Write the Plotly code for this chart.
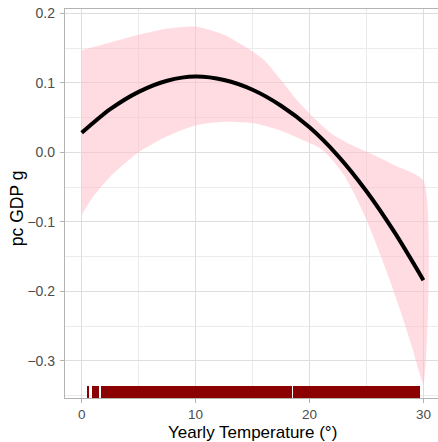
import plotly.graph_objects as go

# Fitted curve (Yearly temperature vs per-capita GDP growth)
fit_temp = [0, 2.5, 5, 7.5, 10, 12.5, 15, 17.5, 20, 22.5, 25, 27.5, 30]
fit_gdp = [0.028, 0.062, 0.087, 0.103, 0.109, 0.104, 0.090, 0.067, 0.036,
           -0.005, -0.056, -0.116, -0.184]

# Confidence band, upper bound
upper_temp = [0, 2.5, 5, 7.5, 10, 12.5, 15, 16, 17.5, 19, 20, 21, 22, 23.5, 25, 27.5, 30]
upper_gdp = [0.147, 0.158, 0.169, 0.178, 0.181, 0.169, 0.145, 0.133, 0.104, 0.073,
             0.056, 0.040, 0.026, 0.012, 0.001, -0.019, -0.041]

# Confidence band, lower bound
lower_temp = [0, 1, 2.5, 5, 7.5, 10, 12.5, 15, 17.5, 19.2, 21, 22, 23, 24, 25, 26, 27, 28, 29, 30]
lower_gdp = [-0.090, -0.064, -0.035, 0.000, 0.023, 0.039, 0.044, 0.042, 0.031, 0.019,
             0.005, -0.011, -0.032, -0.062, -0.097, -0.138, -0.182, -0.229, -0.280, -0.333]

# Rug of observed temperatures (covered spans)
rug_start = [0.49, 0.90, 1.72, 16.65, 18.51]
rug_end = [0.64, 1.52, 16.62, 18.48, 29.70]

x_ticks = [0, 10, 20, 30]
y_ticks = [-0.3, -0.2, -0.1, 0.0, 0.1, 0.2]

x_title = "Yearly Temperature (°)"
y_title = "pc GDP g"

x_range = [-1.467, 31.28]
y_range = [-0.3535, 0.2062]

fig = go.Figure()

# ribbon
band_x = upper_temp + lower_temp[::-1]
band_y = upper_gdp + lower_gdp[::-1]
fig.add_trace(go.Scatter(
    x=band_x, y=band_y, mode="lines", fill="toself",
    fillcolor="rgba(255,192,203,0.55)", line=dict(width=0, shape="spline", smoothing=0.6),
    hoverinfo="skip", showlegend=False))

# fitted line
fig.add_trace(go.Scatter(
    x=fit_temp, y=fit_gdp, mode="lines",
    line=dict(color="black", width=4, shape="spline", smoothing=0.8),
    showlegend=False))

# rug (bottom, 3% of panel height)
rug_len = 0.03 * (y_range[1] - y_range[0])
fig.add_trace(go.Bar(
    x=[(s + e) / 2 for s, e in zip(rug_start, rug_end)],
    width=[e - s for s, e in zip(rug_start, rug_end)],
    y=[rug_len] * len(rug_start),
    base=[y_range[0]] * len(rug_start),
    marker=dict(color="#8B0000", line=dict(width=0)),
    showlegend=False, hoverinfo="skip"))

grid_major = "#dedede"
grid_minor = "#ebebeb"
border = "#b3b3b3"

fig.update_layout(
    width=438, height=442,
    margin=dict(l=65, r=0, t=9, b=44),
    paper_bgcolor="white", plot_bgcolor="white",
    font=dict(family="Liberation Sans, Arial, sans-serif"),
    bargap=0,
    xaxis=dict(
        range=x_range, tickvals=x_ticks, ticktext=[str(v) for v in x_ticks],
        automargin=False,
        showgrid=True, gridcolor=grid_major, gridwidth=1,
        minor=dict(tickvals=[5, 15, 25], showgrid=True, gridcolor=grid_minor, gridwidth=1, ticks=""),
        showline=True, linecolor=border, linewidth=1.3, mirror=True,
        ticks="outside", ticklen=3.5, tickcolor=border, tickwidth=1,
        tickfont=dict(size=13.5, color="#4d4d4d"),
        zeroline=False,
    ),
    yaxis=dict(
        range=y_range, tickvals=y_ticks, tickformat=".1f",
        automargin=False,
        showgrid=True, gridcolor=grid_major, gridwidth=1,
        minor=dict(tickvals=[-0.35, -0.25, -0.15, -0.05, 0.05, 0.15], showgrid=True,
                   gridcolor=grid_minor, gridwidth=1, ticks=""),
        showline=True, linecolor=border, linewidth=1.3, mirror=False,
        ticks="outside", ticklen=4, tickcolor=border, tickwidth=1,
        tickfont=dict(size=14, color="#4d4d4d"),
        ticklabelstandoff=2,
        zeroline=False,
    ),
    annotations=[
        dict(text=x_title, xref="paper", yref="paper", x=0.5027, y=-0.0887,
             xanchor="center", yanchor="middle", showarrow=False,
             font=dict(size=17, color="black")),
        dict(text=y_title, xref="paper", yref="paper", x=-0.1287, y=0.488,
             xanchor="center", yanchor="middle", showarrow=False, textangle=-90,
             font=dict(size=17.5, color="black")),
    ],
)

fig.write_html("out.html", config={"displayModeBar": False},
               post_script="document.body.style.margin='0';")
